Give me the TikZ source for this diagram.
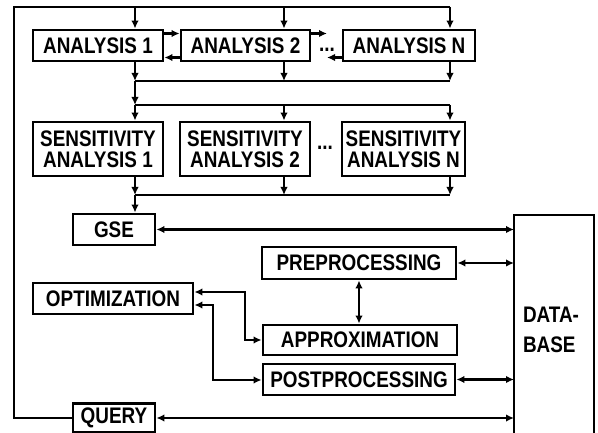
\documentclass[tikz,border=0pt]{standalone}
\usepackage{fontspec}
\setmainfont[FakeStretch=0.84]{Liberation Sans}
\usetikzlibrary{arrows.meta}
\begin{document}
\begin{tikzpicture}[x=1pt,y=-1pt, line width=2.9pt,
  box/.style={draw, line width=2.9pt, inner sep=0pt, font=\fontsize{22.5}{21}\selectfont\bfseries, align=center},
  lbl/.style={inner sep=0pt, font=\fontsize{22.5}{21}\selectfont\bfseries, align=left},
  ar/.style={-{Latex[length=8pt,width=7.5pt]}},
  dar/.style={{Latex[length=8pt,width=7.5pt]}-{Latex[length=8pt,width=7.5pt]}}]
\useasboundingbox (0,0) rectangle (598,433);

% boxes
\node[box, minimum width=130pt, minimum height=31pt] (A1) at (98,45.5) {ANALYSIS 1};
\node[box, minimum width=129pt, minimum height=31pt] (A2) at (245.5,45.5) {ANALYSIS 2};
\node[box, minimum width=132pt, minimum height=31pt] (AN) at (409,45.5) {ANALYSIS N};
\node[box, minimum width=130pt, minimum height=54pt] (SA1) at (98,149) {SENSITIVITY\\ANALYSIS 1};
\node[box, minimum width=130pt, minimum height=54pt] (SA2) at (245,149) {SENSITIVITY\\ANALYSIS 2};
\node[box, minimum width=123pt, minimum height=54pt] (SAN) at (403.5,149) {SENSITIVITY\\ANALYSIS N};
\node[box, minimum width=82pt, minimum height=31pt] (GSE) at (114,229.5) {GSE};
\node[box, minimum width=194pt, minimum height=32pt] (PRE) at (359,263) {PREPROCESSING};
\node[box, minimum width=194pt, minimum height=30pt] (APX) at (360,340) {APPROXIMATION};
\node[box, minimum width=192pt, minimum height=31pt] (POST) at (359,379.5) {POSTPROCESSING};
\node[box, minimum width=160pt, minimum height=31pt] (OPT) at (113,298.5) {OPTIMIZATION};
\node[box, minimum width=82pt, minimum height=29pt] (QRY) at (114,418) {QUERY};

% database (open at the bottom)
\coordinate (DBnw) at (514,215);
\coordinate (DBne) at (594,215);
\draw (DBnw |- 0,445) -- (DBnw) -- (DBne) -- (DBne |- 0,445);
\node[lbl] (DB) at (551,330) {DATA-\\[9pt]BASE};

% dots
\node[lbl] (d1) at (327,50) {...};
\node[lbl] (d2) at (325,148) {...};

% outer loop
\coordinate (tl) at (14,7);
\coordinate (t1) at (135,7);
\coordinate (t2) at (284,7);
\coordinate (tN) at (450,7);
\draw (QRY.west) -- (QRY.west -| tl) -- (tl) -- (tN);
\draw[ar] (t1) -- (t1 |- A1.north);
\draw[ar] (t2) -- (t2 |- A2.north);
\draw[ar] (tN) -- (tN |- AN.north);

% analysis links
\draw[ar] ([yshift=12pt]A1.east) -- ([yshift=12pt]A2.west);
\draw[ar] ([yshift=-12pt]A2.west) -- ([yshift=-12pt]A1.east);
\coordinate (c2) at (327,33.5);
\coordinate (cN) at (327,57.5);
\draw[ar] ([yshift=12pt]A2.east) -- (c2);
\draw[ar] ([yshift=-12pt]AN.west) -- (cN);

% bus 1
\coordinate (b1a) at (135,81);
\coordinate (b1b) at (284,81);
\coordinate (b1c) at (450,81);
\draw[ar] (b1a |- A1.south) -- (b1a);
\draw[ar] (b1b |- A2.south) -- (b1b);
\draw[ar] (b1c |- AN.south) -- (b1c);
\draw (b1a) -- (b1c);

% bus 2
\coordinate (b2a) at (135,105);
\coordinate (b2b) at (284,105);
\coordinate (b2c) at (450,105);
\draw[ar] (b1a) -- (b2a);
\draw (b2a) -- (b2c);
\draw[ar] (b2a) -- (b2a |- SA1.north);
\draw[ar] (b2b) -- (b2b |- SA2.north);
\draw[ar] (b2c) -- (b2c |- SAN.north);

% bus 3
\coordinate (b3a) at (135,195);
\coordinate (b3b) at (284,195);
\coordinate (b3c) at (450,195);
\draw[ar] (b3a |- SA1.south) -- (b3a);
\draw[ar] (b3b |- SA2.south) -- (b3b);
\draw[ar] (b3c |- SAN.south) -- (b3c);
\draw (b3a) -- (b3c);
\draw[ar] (b3a) -- (b3a |- GSE.north);

% database links
\draw[dar] (GSE.east) -- (GSE.east -| DBnw);
\draw[dar] (PRE.east) -- (PRE.east -| DBnw);
\draw[dar] (POST.east) -- (POST.east -| DBnw);
\draw[dar] (QRY.east) -- (QRY.east -| DBnw);
\draw[dar] (PRE.south) -- (PRE.south |- APX.north);

% optimization links
\coordinate (oa) at (245,340);
\coordinate (op) at (213,380);
\draw[dar] ([yshift=6.5pt]OPT.east) -| (oa) -- (APX.west |- oa);
\draw[dar] ([yshift=-6.5pt]OPT.east) -| (op) -- (POST.west |- op);
\end{tikzpicture}
\end{document}
